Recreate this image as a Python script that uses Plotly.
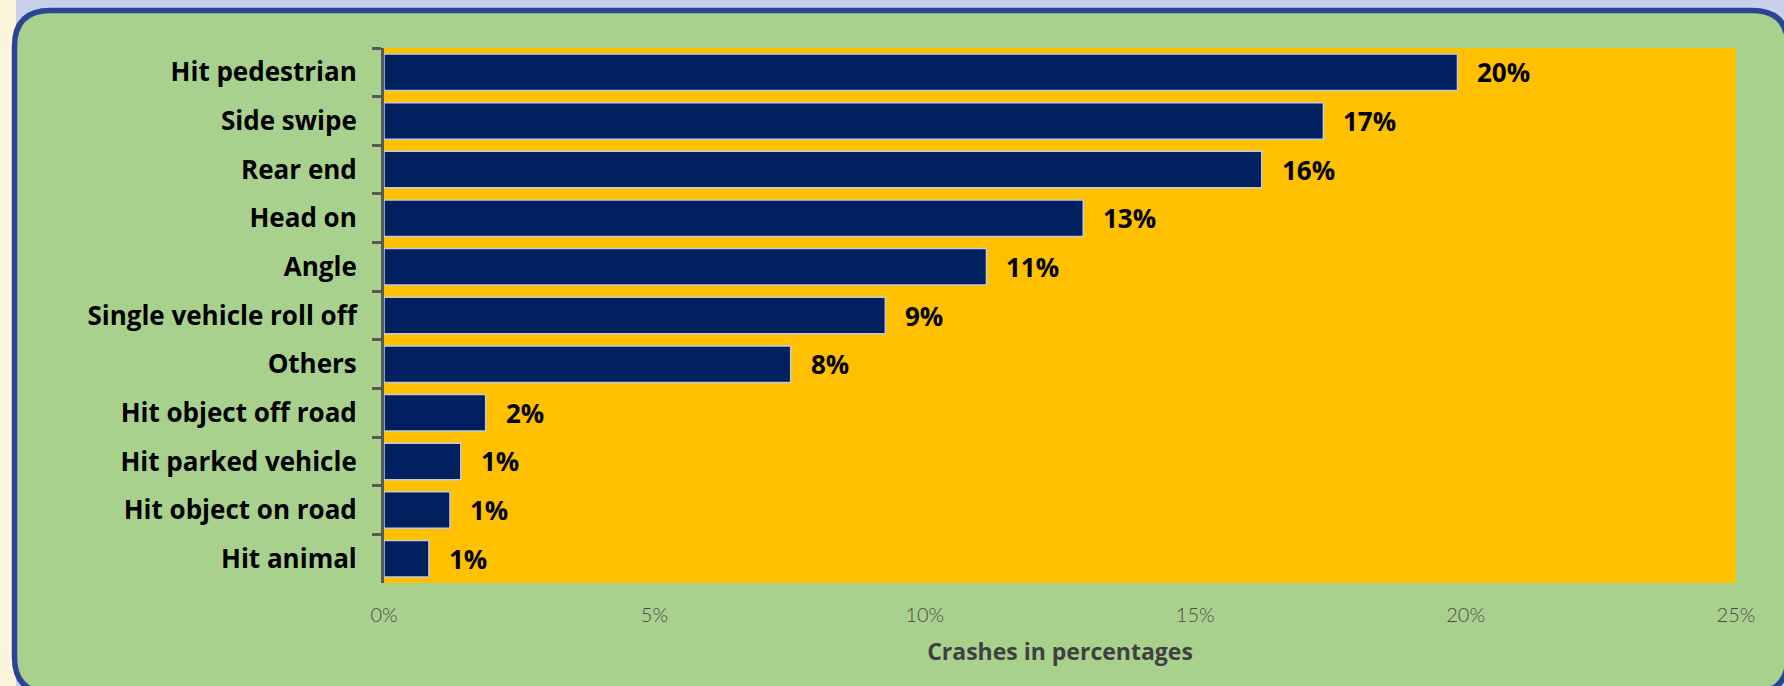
import plotly.graph_objects as go

categories = ["Hit pedestrian", "Side swipe", "Rear end", "Head on", "Angle",
              "Single vehicle roll off", "Others", "Hit object off road",
              "Hit parked vehicle", "Hit object on road", "Hit animal"]
values = [19.85, 17.37, 16.23, 12.93, 11.14, 9.27, 7.52, 1.88, 1.42, 1.22, 0.83]
tick_vals = [0, 5, 10, 15, 20, 25]
tick_text = ["0%", "5%", "10%", "15%", "20%", "25%"]
x_title = "Crashes in percentages"

W, H = 1784, 686
L, R, T, B = 384, 1736, 48, 583
LABEL_FONT = "Open Sans"


def px(x):
    return (x - L) / (R - L)


def py(y):
    return (B - y) / (B - T)


def rounded_path(x0, y0, x1, y1, r):
    return (f"M {px(x0 + r)},{py(y0)} L {px(x1 - r)},{py(y0)} "
            f"Q {px(x1)},{py(y0)} {px(x1)},{py(y0 + r)} "
            f"L {px(x1)},{py(y1 - r)} Q {px(x1)},{py(y1)} {px(x1 - r)},{py(y1)} "
            f"L {px(x0 + r)},{py(y1)} Q {px(x0)},{py(y1)} {px(x0)},{py(y1 - r)} "
            f"L {px(x0)},{py(y0 + r)} Q {px(x0)},{py(y0)} {px(x0 + r)},{py(y0)} Z")


fig = go.Figure()
fig.add_trace(go.Bar(
    y=categories, x=values, orientation="h",
    marker=dict(color="#002060", line=dict(color="#C5CAD8", width=1.5)),
    hoverinfo="skip",
))

for c, v in zip(categories, values):
    fig.add_annotation(x=v, y=c, text=f"{v:.0f}%", showarrow=False,
                       xanchor="left", xshift=18,
                       font=dict(family=LABEL_FONT, size=26, color="#000000", weight="bold"))

shapes = [
    dict(type="rect", xref="paper", yref="paper", x0=px(0), x1=px(16), y0=py(H), y1=py(0),
         fillcolor="#FDF5DC", line=dict(width=0), layer="below"),
    dict(type="path", xref="paper", yref="paper", path=rounded_path(14.5, 10.5, 1788, 693, 36),
         fillcolor="#A9D18E", line=dict(color="#2B4596", width=5.5), layer="below"),
    dict(type="rect", xref="paper", yref="paper", x0=0, x1=1, y0=0, y1=1,
         fillcolor="#FFC000", line=dict(width=0), layer="below"),
]

fig.update_layout(
    width=W, height=H, autosize=False,
    margin=dict(l=L, r=W - R, t=T, b=H - B, pad=0),
    paper_bgcolor="#C9D0EA",
    plot_bgcolor="rgba(0,0,0,0)",
    bargap=0.25,
    showlegend=False,
    shapes=shapes,
    font=dict(family=LABEL_FONT),
    xaxis=dict(range=[0, 25], tickvals=tick_vals, ticktext=tick_text,
               showgrid=False, zeroline=False, showline=False, ticks="",
               tickfont=dict(family="Lato", size=20, color="#4A4A4A", weight=300),
               ticklabelstandoff=18,
               title=dict(text=x_title, standoff=18,
                          font=dict(family=LABEL_FONT, size=23, color="#404040", weight="bold"))),
    yaxis=dict(type="category", categoryorder="array", categoryarray=categories,
               range=[10.5, -0.5], showgrid=False, zeroline=False,
               showline=True, linecolor="#595959", linewidth=3,
               ticks="outside", ticklen=9, tickwidth=3, tickcolor="#595959",
               tickson="boundaries", ticklabelstandoff=19,
               tickfont=dict(family=LABEL_FONT, size=26, color="#000000", weight="bold")),
)

fig.write_html("out.html", config={"displayModeBar": False},
               post_script="document.body.style.margin='0';document.body.style.background='#C9D0EA';")
